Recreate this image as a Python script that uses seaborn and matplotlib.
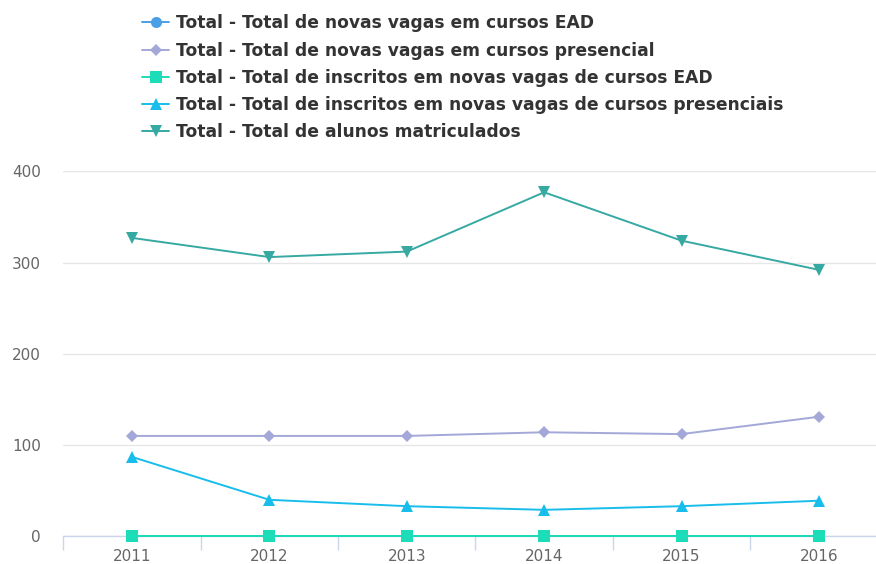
import matplotlib
matplotlib.use("Agg")
import matplotlib.pyplot as plt
import seaborn as sns
import pandas as pd
from matplotlib.ticker import FixedLocator

years = ["2011", "2012", "2013", "2014", "2015", "2016"]
series_names = [
    "Total - Total de novas vagas em cursos EAD",
    "Total - Total de novas vagas em cursos presencial",
    "Total - Total de inscritos em novas vagas de cursos EAD",
    "Total - Total de inscritos em novas vagas de cursos presenciais",
    "Total - Total de alunos matriculados",
]
vagas_ead = [0, 0, 0, 0, 0, 0]
vagas_presencial = [110, 110, 110, 114, 112, 131]
inscritos_ead = [0, 0, 0, 0, 0, 0]
inscritos_presenciais = [87, 40, 33, 29, 33, 39]
matriculados = [327, 306, 312, 377, 324, 292]

values = [vagas_ead, vagas_presencial, inscritos_ead, inscritos_presenciais, matriculados]
colors = ["#4A9FE8", "#A3A8D8", "#1CDDB8", "#18BDEB", "#36A9A3"]
markers = ["o", "D", "s", "^", "v"]
msizes = [8, 6.5, 8.5, 9, 9]

rows = []
for name, vals in zip(series_names, values):
    for i, (y, v) in enumerate(zip(years, vals)):
        rows.append({"serie": name, "x": i, "ano": y, "valor": v})
df = pd.DataFrame(rows)

sns.set_theme(style="white")
plt.rcParams["font.family"] = ["DejaVu Sans"]

W, H = 876, 564
fig = plt.figure(figsize=(W / 100, H / 100), dpi=100)
left, right = 63.3, 876
top, bottom = 171.3, 536.3
ax = fig.add_axes([left / W, (H - bottom) / H, (right - left) / W, (bottom - top) / H])

for name, c, m, ms in zip(series_names, colors, markers, msizes):
    sub = df[df["serie"] == name]
    sns.lineplot(data=sub, x="x", y="valor", ax=ax, color=c, marker=m,
                 markersize=ms, markeredgewidth=0, linewidth=1.4,
                 label=name, clip_on=False, zorder=3)

ax.set_xlim(-0.5, 5.5 - (887.6 - 876) / 137.3)
ax.set_ylim(0, 400)
ax.set_yticks([0, 100, 200, 300, 400])
ax.set_xticks(range(len(years)))
ax.set_xticklabels(years)
ax.xaxis.set_minor_locator(FixedLocator([-0.5, 0.5, 1.5, 2.5, 3.5, 4.5]))
ax.tick_params(axis="x", which="major", bottom=True, length=0, pad=9,
               labelsize=11, labelcolor="#666666")
ax.tick_params(axis="x", which="minor", bottom=True, length=10, width=1,
               color="#CCD6EB", direction="out")
ax.tick_params(axis="y", length=0, pad=16, labelsize=11, labelcolor="#666666")
ax.set_xlabel("")
ax.set_ylabel("")
ax.grid(axis="y", color="#E6E6E6", linewidth=1)
ax.set_axisbelow(True)
for s in ["top", "right", "left"]:
    ax.spines[s].set_visible(False)
ax.spines["bottom"].set_color("#CCD6EB")
ax.spines["bottom"].set_linewidth(1)
ax.spines["bottom"].set_zorder(2)

handles, labels = ax.get_legend_handles_labels()
ax.get_legend().remove()
leg = fig.legend(handles, labels, loc="upper left",
                 bbox_to_anchor=(127 / W, 1 + 1 / H), frameon=False,
                 handlelength=1.55, handletextpad=0.4, labelspacing=0.53,
                 prop={"weight": "bold", "size": 12.35})
for t in leg.get_texts():
    t.set_color("#333333")

fig.savefig("out.png", dpi=100)
